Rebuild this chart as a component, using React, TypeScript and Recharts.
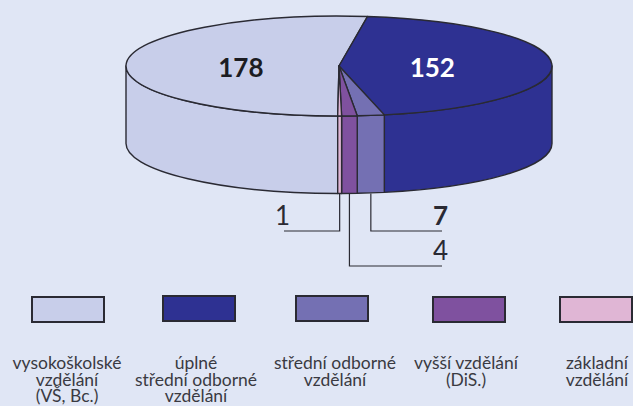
import React from "react";
import { PieChart, Pie, Legend } from "recharts";

const categories = [
  "vysokoškolské\nvzdělání\n(VŠ, Bc.)",
  "úplné\nstřední odborné\nvzdělání",
  "střední odborné\nvzdělání",
  "vyšší vzdělání\n(DiS.)",
  "základní\nvzdělání",
];
const values = [178, 152, 7, 4, 1];
const colors = ["#C8CEEA", "#2E3192", "#7470B3", "#7F519F", "#E0B6D5"];
const data = categories.map((name, i) => ({ name, value: values[i], fill: colors[i] }));

const W = 633, H = 406;
const BG = "#E0E6F5", INK = "#2A2A33";
const FONT = "Lato, 'Noto Sans', sans-serif";
const TILT = 50 / 213, DEPTH = 77.5;
const RAD = Math.PI / 180;

const swatchX = [31, 162, 295, 432, 559];
const swatchY = [296, 295, 295, 296, 296];
const textCx = [67, 196, 335, 466, 597];

function Slice3D(p: any) {
  const { cx, cy, outerRadius: rx, startAngle, endAngle, fill } = p;
  const ry = rx * TILT;
  const pt = (a: number, dy = 0) => [cx + rx * Math.cos(a * RAD), cy - ry * Math.sin(a * RAD) + dy];
  const hi0 = Math.max(startAngle, endAngle), lo0 = Math.min(startAngle, endAngle);
  const walls: string[] = [];
  for (let k = -1; k < 3; k++) {
    const hi = Math.min(hi0, -360 * k), lo = Math.max(lo0, -180 - 360 * k);
    if (hi > lo) {
      const [x1, y1] = pt(hi), [x2, y2] = pt(lo);
      walls.push(`M${x1},${y1} A${rx},${ry} 0 0 1 ${x2},${y2} L${x2},${y2 + DEPTH} A${rx},${ry} 0 0 0 ${x1},${y1 + DEPTH} Z`);
    }
  }
  const [sx, sy] = pt(hi0), [ex, ey] = pt(lo0);
  const large = hi0 - lo0 > 180 ? 1 : 0;
  const top = `M${cx},${cy} L${sx},${sy} A${rx},${ry} 0 ${large} 1 ${ex},${ey} Z`;
  return (
    <g>
      {walls.map((d, i) => (
        <path key={i} d={d} fill={fill} stroke={INK} strokeWidth={1.4} strokeLinejoin="round" />
      ))}
      <path d={top} fill={fill} stroke={INK} strokeWidth={1.4} strokeLinejoin="round" />
    </g>
  );
}

const calloutElbowY = [0, 0, 231, 266, 231];
const calloutEndX = [0, 0, 442, 442, 284];
const calloutWeight = [700, 700, 700, 400, 400];

function SliceLabel(p: any) {
  const { cx, cy, outerRadius: rx, midAngle, index, value } = p;
  const ry = rx * TILT;
  const px = cx + rx * Math.cos(midAngle * RAD);
  if (index < 2) {
    const k = 0.45;
    return (
      <text x={cx - 2.5 + rx * k * Math.cos(midAngle * RAD)} y={77} textAnchor="middle" fontFamily={FONT}
        fontSize={26} fontWeight={700} fill={index === 0 ? "#1C1C22" : "#FFFFFF"}>
        {value}
      </text>
    );
  }
  const elbow = calloutElbowY[index];
  const end = calloutEndX[index];
  return (
    <g>
      <path d={`M${px},${cy + ry + DEPTH} V${elbow} H${end}`} fill="none" stroke={INK} strokeWidth={1.2} />
      <text x={end + 6} y={elbow - 6} textAnchor="end"
        fontFamily={FONT} fontSize={26} fontWeight={calloutWeight[index]} fill={INK}>
        {value}
      </text>
    </g>
  );
}

function LegendRow({ payload }: any) {
  return (
    <div style={{ position: "absolute", left: 0, top: 0, width: W, height: H }}>
      {(payload || []).map((e: any, i: number) => (
        <React.Fragment key={i}>
          <div style={{
            position: "absolute", left: swatchX[i], top: swatchY[i], width: 74, height: 27, boxSizing: "border-box",
            background: e.payload?.fill ?? e.color, border: `2px solid ${INK}`,
          }} />
          <div style={{
            position: "absolute", left: textCx[i] - 80, top: 355, width: 160, textAlign: "center",
            whiteSpace: "pre-line", fontFamily: FONT, fontSize: 17.5, lineHeight: "16.5px", color: "#3A3A42",
          }}>
            {e.value}
          </div>
        </React.Fragment>
      ))}
    </div>
  );
}

export default function App() {
  return (
    <div style={{ position: "absolute", left: 0, top: 0, width: W, height: H, background: BG, overflow: "hidden" }}>
      <PieChart width={W} height={H} margin={{ top: 0, right: 0, bottom: 0, left: 0 }}>
        <Pie
          data={data}
          dataKey="value"
          nameKey="name"
          cx={339}
          cy={66}
          innerRadius={0}
          outerRadius={213}
          startAngle={-90.35}
          endAngle={-450.35}
          paddingAngle={0}
          stroke="none"
          isAnimationActive={false}
          shape={Slice3D}
          label={SliceLabel}
          labelLine={false}
        />
        <Legend itemSorter={null} content={LegendRow} wrapperStyle={{ position: "absolute", left: 0, top: 0, width: W, height: H, pointerEvents: "none" }} />
      </PieChart>
    </div>
  );
}
